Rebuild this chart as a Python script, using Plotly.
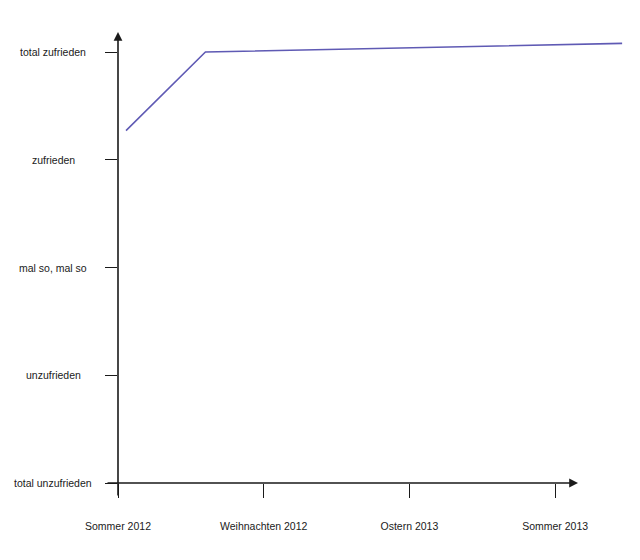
import plotly.graph_objects as go

# Data
time_labels = ["Sommer 2012", "Weihnachten 2012", "Ostern 2013", "Sommer 2013"]
mood_labels = ["total unzufrieden", "unzufrieden", "mal so, mal so", "zufrieden", "total zufrieden"]
line_x = [0.055, 0.60, 3.46]
line_y = [3.27, 4.0, 4.08]

W, H = 640, 560
# page has an 8px body margin, so figure coords = page coords - 8
L, R, T, B = 110, 18, 24, 85
pw, ph = W - L - R, H - T - B
x_range = [0, pw / 145.7]
y_range = [0, ph / 107.75]

ink = "#1a1a1a"
font = dict(family="Liberation Sans, Arial, sans-serif", size=10.5, color=ink)

fig = go.Figure()
fig.add_trace(go.Scatter(
    x=line_x, y=line_y, mode="lines",
    line=dict(color="#5f5ab4", width=1.6),
    hoverinfo="skip", showlegend=False,
))

annotations = []
# x axis with arrow head
x_head = (570 - L) / pw
annotations.append(dict(
    x=x_head, y=0, xref="paper", yref="paper",
    ax=-(570 - 98), ay=0, axref="pixel", ayref="pixel",
    showarrow=True, arrowhead=2, arrowsize=1.1, arrowwidth=1.6,
    arrowcolor=ink, text="",
))
# y axis with arrow head
annotations.append(dict(
    x=0, y=1, xref="paper", yref="paper",
    ax=0, ay=(489 - T), axref="pixel", ayref="pixel",
    showarrow=True, arrowhead=2, arrowsize=1.1, arrowwidth=1.6,
    arrowcolor=ink, text="",
))
# y labels, centered left of the axis
for i, lab in enumerate(mood_labels):
    annotations.append(dict(
        x=(45 - L) / pw, y=i, xref="paper", yref="y",
        text=lab, showarrow=False, xanchor="center", yanchor="middle",
        font=font,
    ))

fig.update_layout(
    width=W, height=H,
    margin=dict(l=L, r=R, t=T, b=B, pad=0),
    paper_bgcolor="white", plot_bgcolor="white",
    font=font,
    annotations=annotations,
    xaxis=dict(
        range=x_range, tickvals=list(range(len(time_labels))), ticktext=time_labels,
        ticks="outside", ticklen=14, tickwidth=1.4, tickcolor=ink,
        showline=False, showgrid=False, zeroline=False,
        ticklabelstandoff=19, tickfont=font, fixedrange=True,
    ),
    yaxis=dict(
        range=y_range, tickvals=list(range(len(mood_labels))),
        ticks="outside", ticklen=12, tickwidth=1.4, tickcolor=ink,
        showticklabels=False,
        showline=False, showgrid=False, zeroline=False, fixedrange=True,
    ),
)

fig.write_html("out.html")
